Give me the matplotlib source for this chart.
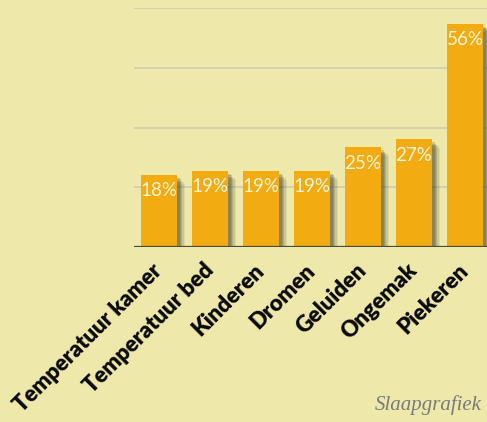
import matplotlib.pyplot as plt
import matplotlib.patheffects as pe
import numpy as np

# Data
categories = ['Temperatuur kamer', 'Temperatuur bed', 'Kinderen', 'Dromen',
              'Geluiden', 'Ongemak', 'Piekeren']
values = [18, 19, 19, 19, 25, 27, 56]
yticks = [0, 15, 30, 45, 60]

BG = '#EEE8AA'
BAR = '#F2AC12'

fig = plt.figure(figsize=(4.87, 4.22), dpi=100, facecolor=BG)
# axes runs slightly past the right edge, like the cropped original
ax = fig.add_axes([133.5 / 487, 175 / 422, 357 / 487, 239 / 422])
ax.set_facecolor(BG)

x = np.arange(len(categories))

# soft drop shadow built from a few offset layers
shadow = [pe.SimplePatchShadow(offset=(d, -d), shadow_rgbFace='#3a3a20', alpha=a)
          for d, a in [(6, 0.08), (5, 0.12), (4, 0.16), (3, 0.2), (2, 0.2)]]
bars = ax.bar(x, values, width=0.7, color=BAR, zorder=3,
              path_effects=shadow + [pe.Normal()])

for xi, v in zip(x, values):
    ax.text(xi, v - 1.8, '%d%%' % v, ha='center', va='top', color='#FFF6E0',
            fontsize=13.5, family='Lato', zorder=4)

ax.set_xlim(-0.5, len(categories) - 0.5)
ax.set_ylim(0, 60)
ax.set_yticks(yticks)
ax.yaxis.grid(True, color='#CFCBAF', lw=1.2)
ax.set_axisbelow(True)
ax.tick_params(left=False, labelleft=False, bottom=False)
for s in ax.spines.values():
    s.set_visible(False)
ax.axhline(0, color='#4a4a3a', lw=1.6, zorder=5)

ax.set_xticks(x)
ax.set_xticklabels(categories, rotation=45, ha='right', va='center',
                   rotation_mode='anchor', fontsize=16, fontweight='heavy',
                   family='Lato', color='#0a0a0a')
ax.tick_params(axis='x', pad=11)
for lbl in ax.get_xticklabels():
    lbl.set_x(lbl.get_position()[0] + 0.15)

fig.text(482 / 487, 7 / 422, 'Slaapgrafiek', ha='right', va='bottom',
         fontsize=15, style='italic', family='Liberation Serif', color='#7a7a7a')

fig.savefig('out.png', dpi=100, facecolor=BG)
